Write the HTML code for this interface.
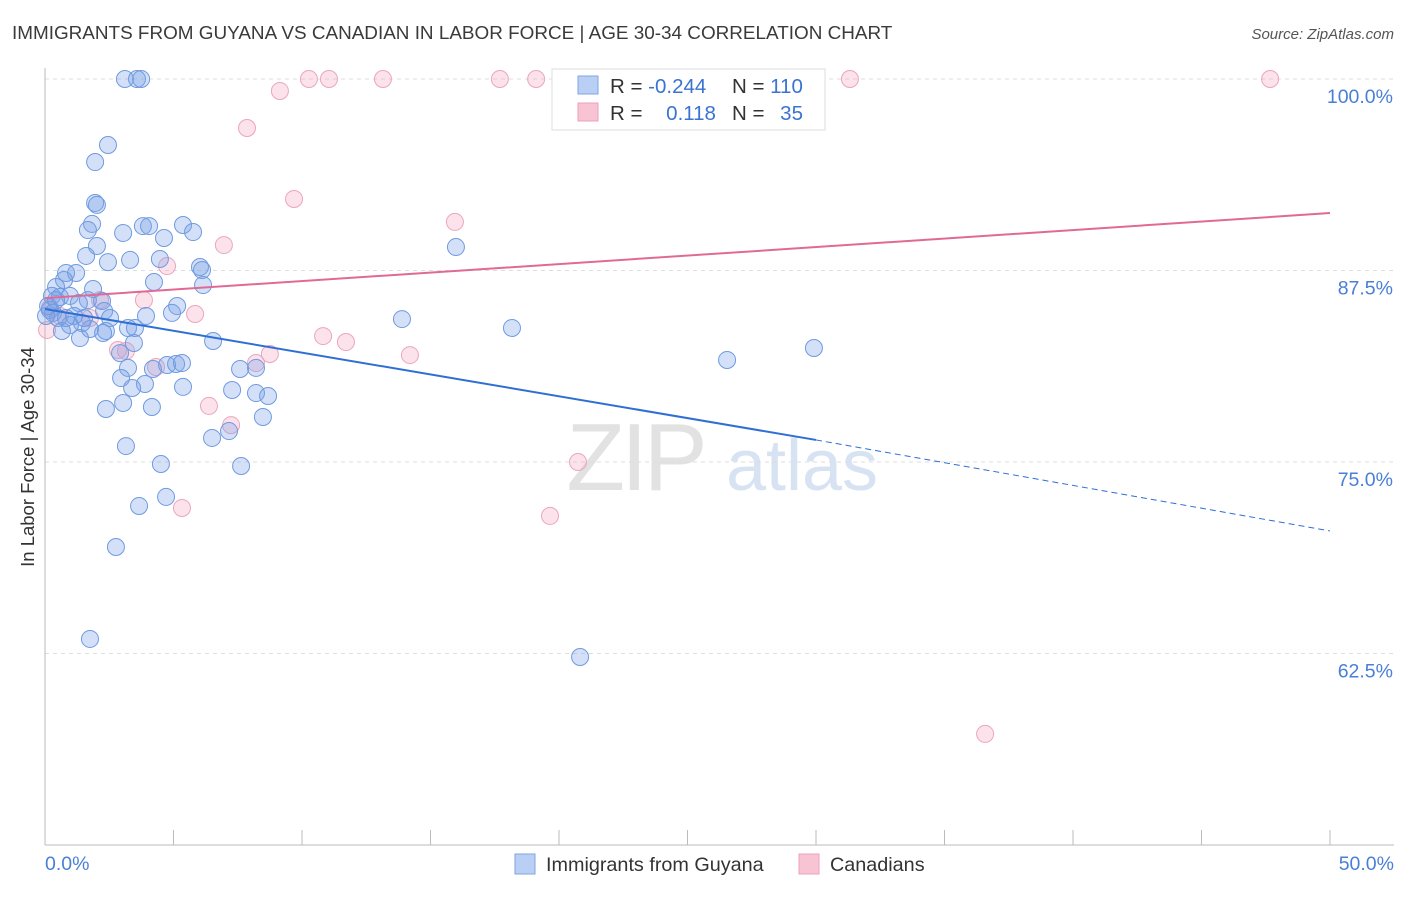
<!DOCTYPE html>
<html><head><meta charset="utf-8">
<style>
body{margin:0;background:#fff;font-family:"Liberation Sans",sans-serif;}
svg text{font-family:"Liberation Sans",sans-serif;}
</style></head>
<body>
<svg id="chart" width="1406" height="892" xmlns="http://www.w3.org/2000/svg">
<text x="12" y="39" font-size="18.9" fill="#3a3a3a">IMMIGRANTS FROM GUYANA VS CANADIAN IN LABOR FORCE | AGE 30-34 CORRELATION CHART</text>
<text x="1394" y="39" font-size="15" fill="#555" text-anchor="end" font-style="italic">Source: ZipAtlas.com</text>
<g>
<text x="635" y="490" font-size="96" fill="#e2e2e2" text-anchor="middle" font-family="Liberation Serif" letter-spacing="-4">ZIP</text>
<text x="802" y="490" font-size="72" fill="#d7e3f3" text-anchor="middle">atlas</text>
</g>
<g id="grid"></g>
<g id="axes"></g>
<g id="marks"></g>
<text transform="translate(34,457) rotate(-90)" font-size="18.5" fill="#333" text-anchor="middle">In Labor Force | Age 30-34</text>
<g>
<rect x="552" y="69" width="273" height="61" fill="#fff" stroke="#ddd"/>
<rect x="578" y="76" width="20" height="18" fill="#b9cff3" stroke="#7ea5e3"/>
<rect x="578" y="103" width="20" height="18" fill="#f8c3d3" stroke="#eca3ba"/>
<text x="610" y="93" font-size="20.5" fill="#333">R = <tspan fill="#3a73d0">-0.244</tspan></text>
<text x="732" y="93" font-size="20.5" fill="#333">N = <tspan fill="#3a73d0">110</tspan></text>
<text x="610" y="120" font-size="20.5" fill="#333">R = <tspan fill="#3a73d0" dx="18">0.118</tspan></text>
<text x="732" y="120" font-size="20.5" fill="#333">N = <tspan fill="#3a73d0" dx="10">35</tspan></text>
</g>
<g>
<rect x="515" y="854" width="20" height="20" fill="#b9cff3" stroke="#7ea5e3"/>
<text x="546" y="871" font-size="19.8" fill="#333">Immigrants from Guyana</text>
<rect x="799" y="854" width="20" height="20" fill="#f8c3d3" stroke="#eca3ba"/>
<text x="830" y="871" font-size="19.8" fill="#333">Canadians</text>
</g>
</svg>
<script>
const yTicks=[100,87.5,75,62.5];
const yTickLabels=["100.0%","87.5%","75.0%","62.5%"];
const xTickLabels=["0.0%","50.0%"];
const blueX=[3.11,3.58,3.74,2.45,1.95,1.95,2.02,1.83,1.67,3.04,3.81,4.05,5.37,5.76,4.63,2.02,1.60,2.45,3.31,4.47,6.03,6.11,6.15,4.24,0.82,1.21,0.74,1.87,0.43,0.27,0.58,0.97,1.67,2.22,2.30,1.32,0.19,0.31,0.51,1.13,1.44,2.53,3.50,2.37,3.23,1.75,0.66,1.36,2.26,0.97,5.14,4.94,3.93,6.54,2.92,3.46,3.23,2.96,4.20,4.75,5.10,5.33,3.89,3.39,5.37,7.28,7.59,8.21,8.21,8.68,2.37,3.04,4.16,8.48,6.50,7.16,3.15,4.51,7.63,4.71,3.66,2.76,1.75,15.99,13.89,18.17,26.54,29.92,20.82,0.12,0.43,0.82,0.04,1.52];
const blueY=[100,100,100,95.69,94.58,91.91,91.78,90.54,90.14,89.95,90.40,90.40,90.47,90.01,89.62,89.10,88.45,88.05,88.19,88.25,87.73,87.53,86.55,86.75,87.34,87.34,86.88,86.29,86.42,85.84,85.77,85.84,85.57,85.51,84.86,85.38,84.92,84.73,84.40,84.53,84.07,84.40,83.75,83.55,83.75,83.68,83.55,83.09,83.42,83.94,85.18,84.73,84.53,82.90,82.11,82.77,81.14,80.48,81.07,81.33,81.40,81.46,80.09,79.83,79.90,79.70,81.07,81.14,79.50,79.31,78.46,78.85,78.59,77.94,76.57,77.02,76.04,74.87,74.74,72.72,72.13,69.45,63.45,89.03,84.33,83.75,81.66,82.44,62.27,85.18,85.57,84.40,84.53,84.40];
const pinkX=[0.08,0.19,0.58,2.14,3.85,2.84,3.15,4.75,5.84,6.96,7.86,9.14,9.69,10.27,11.05,13.15,17.70,19.11,31.32,47.67,15.95,10.82,11.71,14.20,8.75,8.21,7.24,6.38,4.32,5.33,20.74,19.65,36.58,1.75];
const pinkY=[83.62,85.05,84.53,85.57,85.57,82.31,82.25,87.79,84.66,89.16,96.80,99.22,92.17,100,100,100,100,100,100,100,90.67,83.22,82.83,81.98,82.05,81.46,77.41,78.66,81.20,72.00,75.00,71.48,57.25,84.40];
const blueTrend=[84.99,76.44,70.50]; // at x=0,30,50
const pinkTrend=[85.70,91.25]; // at x=0,50
const NS="http://www.w3.org/2000/svg";
const X=v=>45+v*25.7, Y=v=>79+(100-v)*15.32;
function mk(tag,attrs,parent){const e=document.createElementNS(NS,tag);for(const k in attrs)e.setAttribute(k,attrs[k]);document.getElementById(parent).appendChild(e);return e;}
yTicks.forEach((t,i)=>{
 const l=mk('line',{x1:45,x2:1394,y1:Y(t),y2:Y(t),stroke:'#ddd','stroke-dasharray':'4,4'},'grid');
 
 
 const tx=mk('text',{x:1393,y:Y(t)+24,'font-size':19.5,fill:'#4a7fd6','text-anchor':'end'},'grid');
 tx.textContent=yTickLabels[i];
 
 
});
let ax=mk('line',{x1:45,x2:1394,y1:845,y2:845,stroke:'#bbb'},'axes');


let ay=mk('line',{x1:45,x2:45,y1:68,y2:845,stroke:'#bbb'},'axes');


for(let i=0;i<=10;i++){
 const t=mk('line',{x1:X(i*5),x2:X(i*5),y1:830,y2:845,stroke:'#bbb'},'axes');
 
 
}
[[0,'start',45],[50,'end',1394]].forEach((d,i)=>{
 const tx=mk('text',{x:d[2],y:870,'font-size':19.5,fill:'#4a7fd6','text-anchor':d[1]},'axes');
 tx.textContent=xTickLabels[i];
 
 
});
pinkX.forEach((x,i)=>{
 const c=mk('circle',{cx:X(x),cy:Y(pinkY[i]),r:8.5,fill:'rgba(242,160,190,0.3)',stroke:'#eba6bd','stroke-width':1},'marks');
 
 
});
blueX.forEach((x,i)=>{
 const c=mk('circle',{cx:X(x),cy:Y(blueY[i]),r:8.5,fill:'rgba(120,160,230,0.33)',stroke:'#6f9be0','stroke-width':1},'marks');
 
 
});
let b1=mk('line',{x1:X(0),y1:Y(blueTrend[0]),x2:X(30),y2:Y(blueTrend[1]),stroke:'#2f6fd4','stroke-width':2},'marks');


let b2=mk('line',{x1:X(30),y1:Y(blueTrend[1]),x2:X(50),y2:Y(blueTrend[2]),stroke:'#2f6fd4','stroke-width':1,'stroke-dasharray':'6,4'},'marks');


let p1=mk('line',{x1:X(0),y1:Y(pinkTrend[0]),x2:X(50),y2:Y(pinkTrend[1]),stroke:'#e06a95','stroke-width':2},'marks');


</script>
</body></html>
